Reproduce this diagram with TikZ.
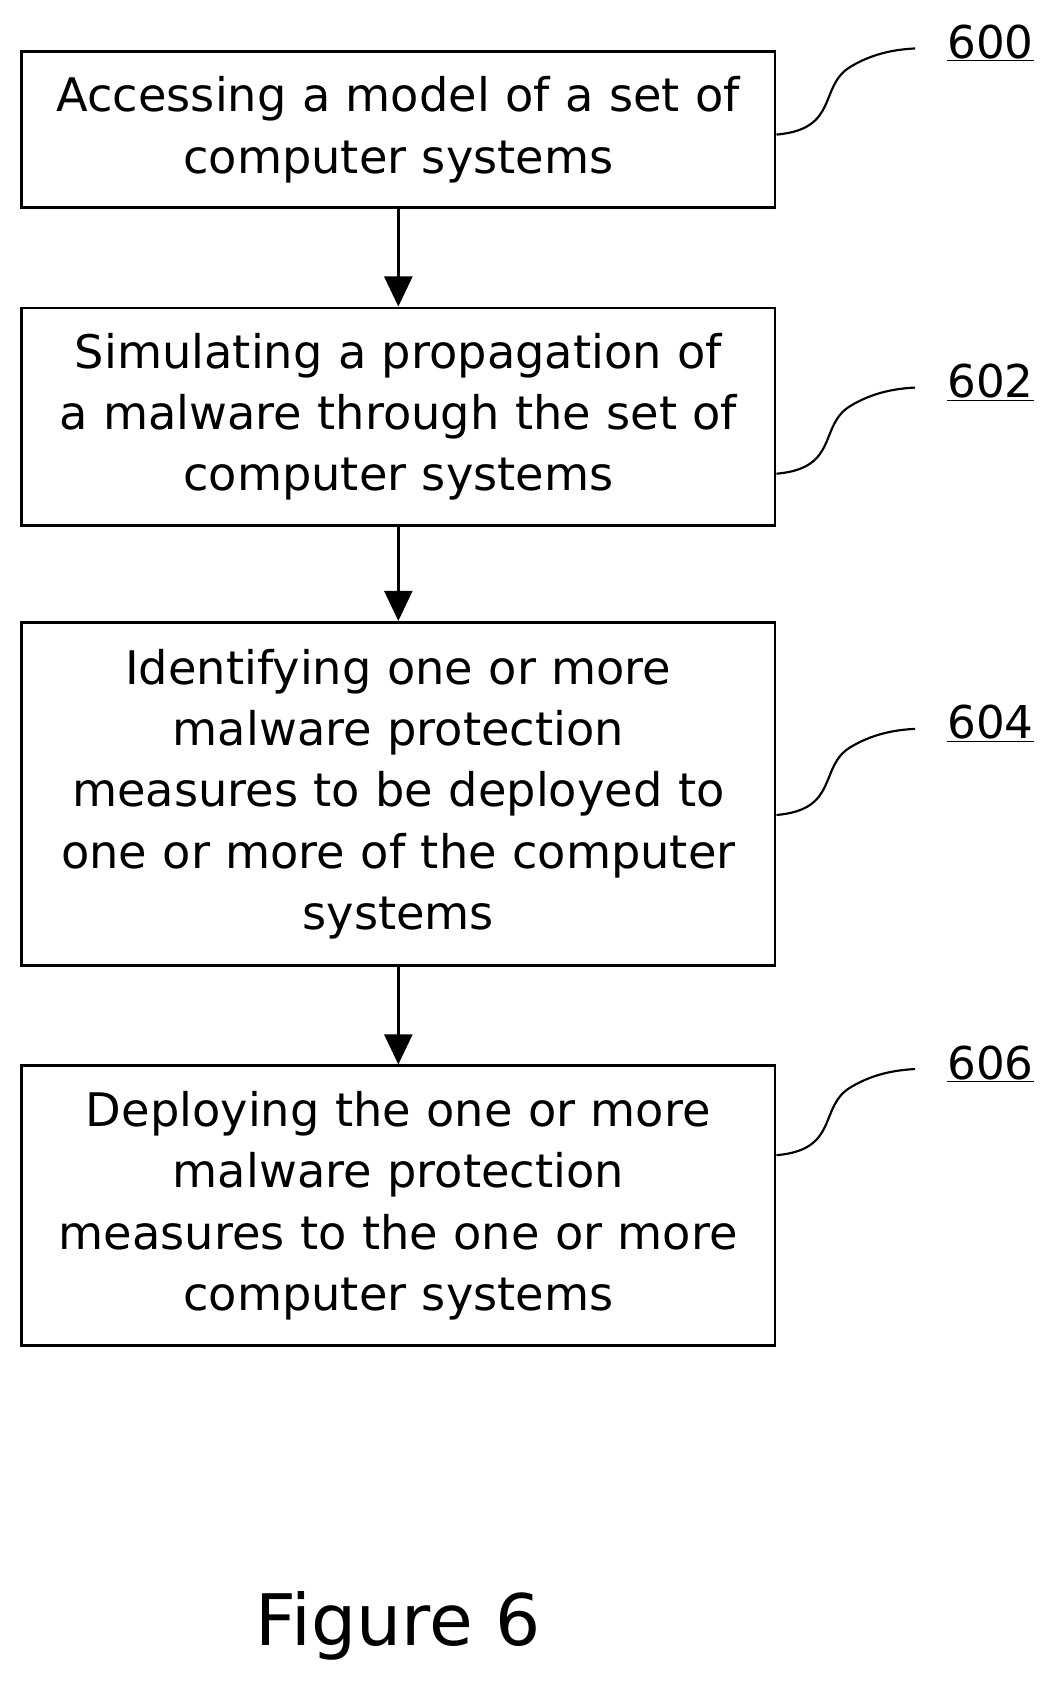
\documentclass[tikz,border=0pt]{standalone}
\usepackage{fontspec}
\setmainfont{DejaVu Sans}
\usetikzlibrary{arrows.meta}
\tikzset{
  stepbox/.style={draw,line width=2.5pt,minimum width=700pt,text width=690pt,align=center,inner sep=0pt,font=\fontsize{43}{57}\selectfont},
  reflabel/.style={font=\fontsize{42}{48}\selectfont,inner sep=2pt},
  flow/.style={-{Triangle[length=28pt,width=26pt]},line width=2.5pt},
  lead/.style={line width=2pt}
}
\begin{document}
\begin{tikzpicture}[x=1pt,y=-1pt]
	\useasboundingbox (0,0) rectangle (981,1567);
	%caixas
	\node[stepbox,minimum height=145pt] (s600) at (370,120.5) {Accessing a model of a set of\\computer systems};
	\node[stepbox,minimum height=202pt] (s602) at (370,387) {Simulating a propagation of\\a malware through the set of\\computer systems};
	\node[stepbox,minimum height=319pt] (s604) at (370,737.5) {Identifying one or more\\malware protection\\measures to be deployed to\\one or more of the computer\\systems};
	\node[stepbox,minimum height=260pt] (s606) at (370,1120) {Deploying the one or more\\malware protection\\measures to the one or more\\computer systems};
	%setas
	\draw[flow] (s600) -- (s602);
	\draw[flow] (s602) -- (s604);
	\draw[flow] (s604) -- (s606);
	%rotulos
	\foreach \n/\y in {600/40,602/355,604/672,606/988}{
		\node[reflabel] (l\n) at (920,\y) {\underline{\n}};
		\coordinate (e\n) at (850,\y+5);
		\draw[lead] (s\n.east |- 0,\y+85) .. controls (780,\y+80) and (760,\y+40) .. (790,\y+22) .. controls (810,\y+10) and (830,\y+6) .. (e\n);
	}
	\node[font=\fontsize{66}{70}\selectfont] (fig) at (370,1510) {Figure 6};
\end{tikzpicture}
\end{document}
